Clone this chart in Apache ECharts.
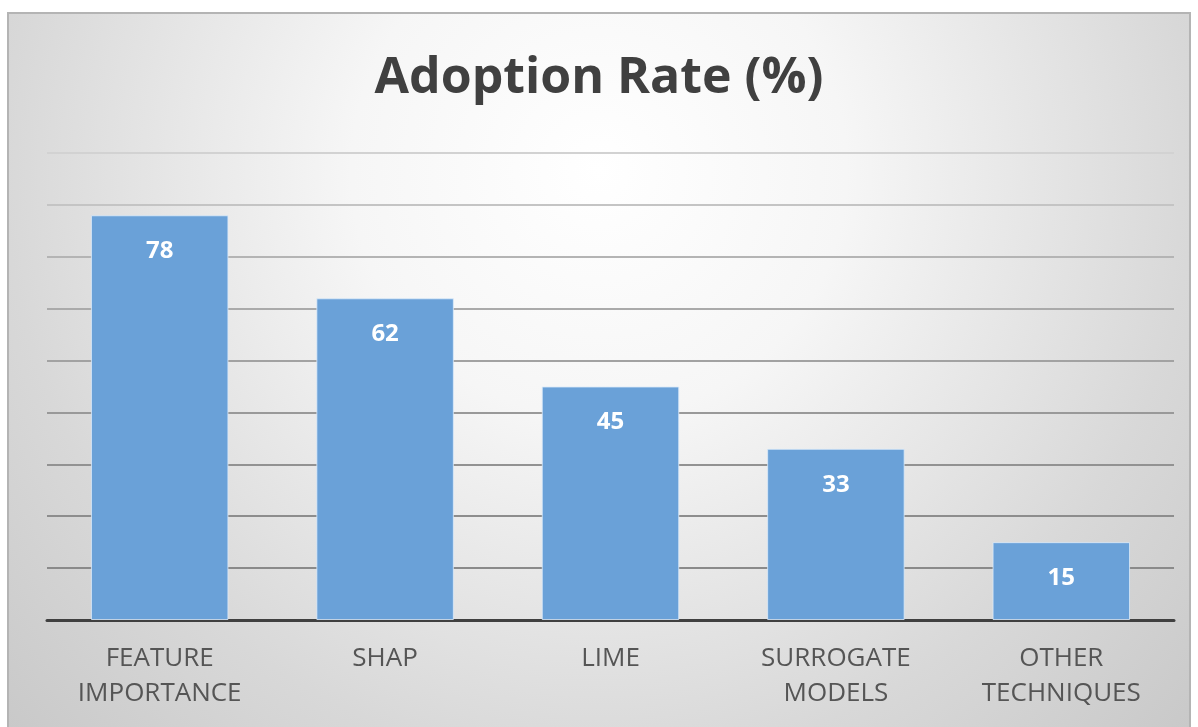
<!DOCTYPE html>
<html lang="en">
<head>
  <meta charset="UTF-8">
  <title>Adoption Rate</title>
  <script src="https://cdn.jsdelivr.net/npm/echarts@6/dist/echarts.min.js"></script>
  <style>
    html, body { margin: 0; padding: 0; background: #fff; }
    #main { width: 1198px; height: 727px; }
  </style>
</head>
<body>
<div id="main"></div>
<script>
  var categories = ['FEATURE\nIMPORTANCE', 'SHAP', 'LIME', 'SURROGATE\nMODELS', 'OTHER\nTECHNIQUES'];
  var rates = [78, 62, 45, 33, 15];

  var myChart = echarts.init(document.getElementById('main'));

  myChart.setOption({
    animation: false,
    graphic: [{
      type: 'rect',
      z: -10,
      silent: true,
      shape: {x: 8, y: 13, width: 1182, height: 716},
      style: {
        // soft vignette: white near the title, grey towards the edges
        fill: new echarts.graphic.RadialGradient(0.5, 0.22, 1.15, [
          {offset: 0, color: '#ffffff'},
          {offset: 0.3, color: '#f6f6f6'},
          {offset: 0.72, color: '#d8d8d8'},
          {offset: 1, color: '#c8c8c8'}
        ]),
        stroke: '#b4b4b4',
        lineWidth: 2
      }
    }],
    title: {
      text: 'Adoption Rate (%)',
      left: 'center',
      top: 49,
      textStyle: {
        fontFamily: 'Open Sans',
        fontWeight: 'bold',
        fontSize: 50,
        color: '#404040'
      }
    },
    grid: {
      left: 47,
      right: 24,
      top: 153,
      bottom: 107
    },
    xAxis: {
      type: 'category',
      data: categories,
      axisLine: {lineStyle: {color: '#404040', width: 3}},
      axisTick: {show: false},
      axisLabel: {
        margin: 21,
        fontFamily: 'Open Sans',
        fontSize: 26,
        lineHeight: 35,
        color: '#555555'
      }
    },
    yAxis: {
      type: 'value',
      min: 0,
      max: 90,
      interval: 10,
      axisLabel: {show: false},
      axisLine: {show: false},
      axisTick: {show: false},
      splitLine: {
        lineStyle: {
          width: 2,
          color: ['#888', '#8a8a8a', '#8d8d8d', '#929292', '#999', '#a2a2a2', '#aaaaaa', '#b4b4b4', '#c4c4c4', '#d2d2d2']
        }
      }
    },
    series: [{
      type: 'bar',
      data: rates,
      barWidth: '61%',
      itemStyle: {
        color: '#6aa1d8',
        borderColor: 'rgba(220,235,250,0.8)',
        borderWidth: 1
      },
      label: {
        show: true,
        position: 'insideTop',
        distance: 24,
        fontFamily: 'Open Sans',
        fontWeight: 'bold',
        fontSize: 24,
        color: '#fff'
      }
    }]
  });
</script>
</body>
</html>
